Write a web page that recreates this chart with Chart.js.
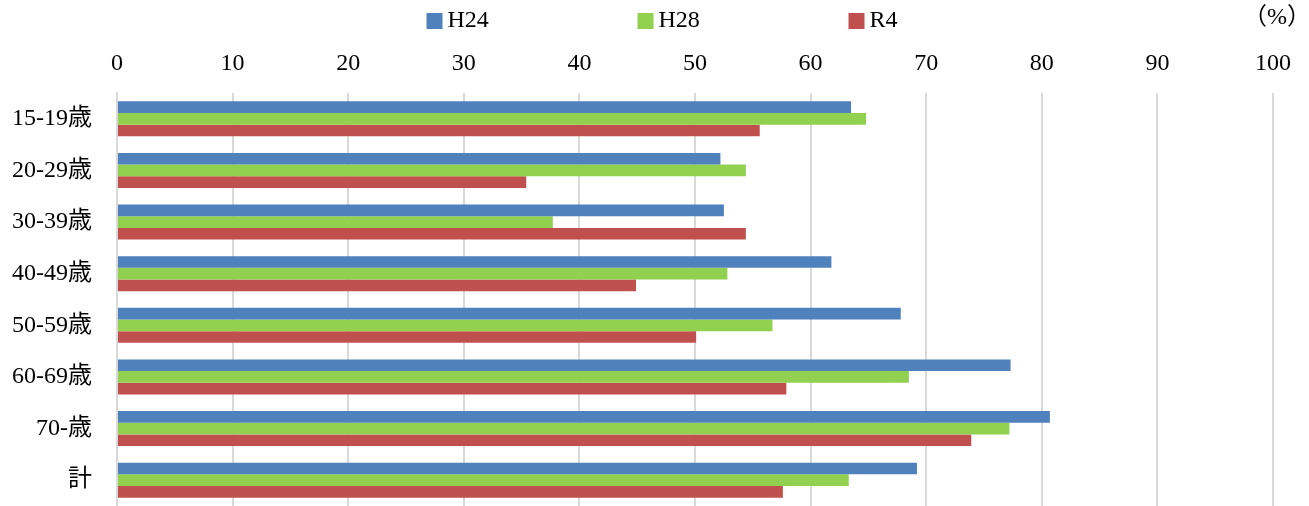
<!DOCTYPE html>
<html>
<head>
<meta charset="utf-8">
<script src="https://cdn.jsdelivr.net/npm/chart.js@4/dist/chart.umd.min.js"></script>
<style>
  html, body { margin: 0; padding: 0; background: #fff; }
  #wrap { width: 1309px; height: 506px; }
</style>
</head>
<body>
<div id="wrap"><canvas id="myChart"></canvas></div>
<script>
const categories = ['15-19歳', '20-29歳', '30-39歳', '40-49歳', '50-59歳', '60-69歳', '70-歳', '計'];
const h24 = [63.5, 52.2, 52.5, 61.8, 67.8, 77.3, 80.7, 69.2];
const h28 = [64.8, 54.4, 37.7, 52.8, 56.7, 68.5, 77.2, 63.3];
const r4 = [55.6, 35.4, 54.4, 44.9, 50.1, 57.9, 73.9, 57.6];
const seriesNames = ['H24', 'H28', 'R4'];
const unitLabel = '（%）';

const FONT = '"Liberation Serif", "DejaVu Serif", "Noto Sans CJK JP", serif';
const colors = ['#4F81BD', '#92D050', '#C0504D'];

// legend row + "(%)" drawn by hand, the built-in legend packs the items too tight
const topLabels = {
    id: 'topLabels',
    afterDraw(chart) {
        const ctx = chart.ctx;
        ctx.save();
        ctx.font = '24px ' + FONT;
        ctx.fillStyle = '#000';
        ctx.textBaseline = 'middle';
        let x = chart.width / 2 - 228;
        chart.data.datasets.forEach((ds) => {
            ctx.fillStyle = ds.backgroundColor;
            ctx.fillRect(x, 13, 16, 16);
            ctx.fillStyle = '#000';
            ctx.textAlign = 'left';
            ctx.fillText(ds.label, x + 21, 21);
            x += 211;
        });
        ctx.textAlign = 'right';
        ctx.fillText(unitLabel, chart.width + 2, 18);
        ctx.restore();
    },
};

const data = {
    labels: categories,
    datasets: [h24, h28, r4].map((vals, i) => {
        return {
            label: seriesNames[i],
            data: vals,
            backgroundColor: colors[i],
            borderWidth: 0,
            barPercentage: 1.0,
            categoryPercentage: 0.68,
        };
    }),
};

const config = {
    type: 'bar',
    data: data,
    options: {
        indexAxis: 'y',
        responsive: true,
        maintainAspectRatio: false,
        animation: false,
        layout: { padding: { left: 0, right: 36, top: 0, bottom: 0 } },
        plugins: {
            legend: { display: false },
            tooltip: { enabled: false },
        },
        scales: {
            x: {
                position: 'top',
                min: 0,
                max: 100,
                ticks: {
                    stepSize: 10,
                    color: '#000',
                    font: { family: FONT, size: 24 },
                    padding: 15,
                },
                grid: {
                    color: '#d9d9d9',
                    lineWidth: 2,
                    drawTicks: false,
                },
                border: { display: false },
                afterFit(scale) {
                    scale.height = 93;
                    scale.paddingLeft = 0;
                    scale.paddingRight = 0;
                },
            },
            y: {
                ticks: {
                    color: '#000',
                    font: { family: FONT, size: 24 },
                    padding: 25,
                },
                grid: { display: false, drawTicks: false },
                border: { color: '#d9d9d9', width: 2 },
                afterFit(scale) {
                    scale.width = 117;
                    scale.paddingTop = 0;
                    scale.paddingBottom = 0;
                },
            },
        },
    },
    plugins: [topLabels],
};

const myChart = new Chart(document.getElementById('myChart'), config);
</script>
</body>
</html>
